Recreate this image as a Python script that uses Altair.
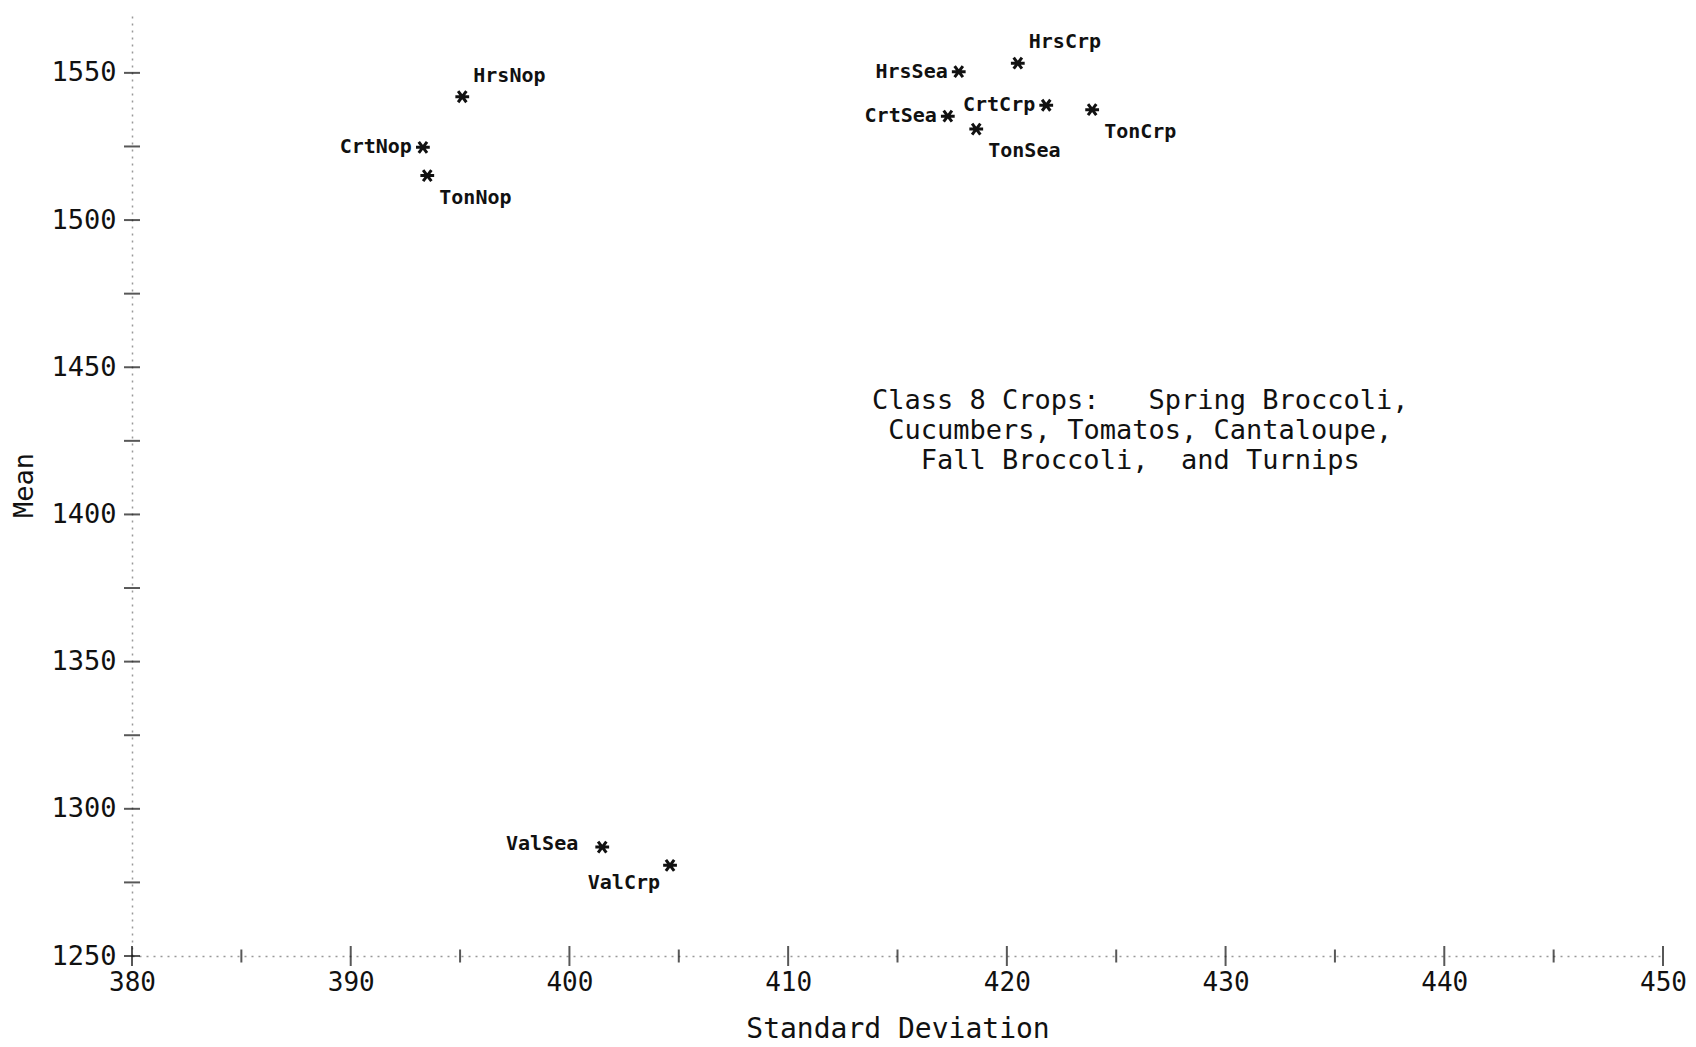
import altair as alt
import pandas as pd

# Crop-rotation treatments: standard deviation vs. mean
labels = ["HrsNop", "CrtNop", "TonNop", "HrsSea", "HrsCrp", "CrtSea",
          "CrtCrp", "TonSea", "TonCrp", "ValSea", "ValCrp"]
std_dev = [395.1, 393.3, 393.5, 417.8, 420.5, 417.3, 421.8, 418.6, 423.9, 401.5, 404.6]
means = [1541.9, 1524.7, 1515.1, 1550.4, 1553.3, 1535.3, 1539.0, 1530.9, 1537.5, 1287.0, 1280.8]
placement = ["NE", "W", "SE", "W", "NE", "W", "W", "SE", "SE", "W2", "SW"]

x_major = [380, 390, 400, 410, 420, 430, 440, 450]
x_minor = [385, 395, 405, 415, 425, 435, 445]
y_ticks = [1250, 1275, 1300, 1325, 1350, 1375, 1400, 1425, 1450, 1475,
           1500, 1525, 1550]
y_labels = [1250, 1300, 1350, 1400, 1450, 1500, 1550]

NBSP = "\u00a0"
note_lines = ["Class 8 Crops:" + NBSP * 3 + "Spring Broccoli,",
              "Cucumbers, Tomatos, Cantaloupe,",
              "Fall Broccoli," + NBSP * 2 + "and Turnips"]
note_x = [426.1]
note_y = [1438.4]

df = pd.DataFrame({"label": labels, "sd": std_dev, "mean": means, "pos": placement})
xmaj_df = pd.DataFrame({"v": x_major})
xmin_df = pd.DataFrame({"v": x_minor})
yt_df = pd.DataFrame({"v": y_ticks})
note_df = pd.DataFrame({"sd": note_x, "mean": note_y, "txt": ["\n".join(note_lines)]})

MONO = "DejaVu Sans Mono"
xs = alt.Scale(domain=[380, 450], nice=False, zero=False)
ys = alt.Scale(domain=[1250, 1570], nice=False, zero=False)

X = alt.X("sd:Q", scale=xs,
          axis=alt.Axis(values=x_major, ticks=False, grid=False, format="d",
                        labelFlush=False,
                        domainColor="#999", domainDash=[2, 5], domainWidth=1.5,
                        labelFont=MONO, labelFontSize=26, labelColor="#111",
                        labelPadding=13, title="Standard Deviation",
                        titleFont=MONO, titleFontSize=28, titleFontWeight="normal",
                        titleColor="#111", titlePadding=20))
Y = alt.Y("mean:Q", scale=ys,
          axis=alt.Axis(values=y_labels, ticks=False, grid=False, format="d",
                        labelFlush=False,
                        domainColor="#999", domainDash=[2, 5], domainWidth=1.5,
                        labelFont=MONO, labelFontSize=27, labelColor="#111",
                        labelPadding=16, title="Mean",
                        titleFont=MONO, titleFontSize=27, titleFontWeight="normal",
                        titleColor="#111", titleX=-108, titleBaseline="middle",
                        titleAlign="center"))

asterisk = "M-1,0L1,0M-0.6,-0.8L0.6,0.8M-0.6,0.8L0.6,-0.8"

points = alt.Chart(df).mark_point(
    shape=asterisk, size=190, filled=False, stroke="#111", strokeWidth=3, opacity=1
).encode(x=X, y=Y)

def label_layer(pos, align, dx, dy):
    return alt.Chart(df).transform_filter(alt.datum.pos == pos).mark_text(
        font=MONO, fontSize=20, fontWeight="bold", color="#111",
        align=align, baseline="middle", dx=dx, dy=dy
    ).encode(x=alt.X("sd:Q", scale=xs), y=alt.Y("mean:Q", scale=ys), text="label:N")

labels_layers = [
    label_layer("W", "right", -11, 0),
    label_layer("NE", "left", 11, -21),
    label_layer("SE", "left", 12, 22),
    label_layer("W2", "right", -24, -3),
    label_layer("SW", "right", -10, 18),
]

# axis tick marks crossing the axis lines
x_major_ticks = alt.Chart(xmaj_df).mark_tick(
    orient="vertical", size=20, thickness=2, color="#111"
).encode(x=alt.X("v:Q", scale=xs), y=alt.datum(1250, scale=ys))
x_minor_ticks = alt.Chart(xmin_df).mark_tick(
    orient="vertical", size=13, thickness=2, color="#111"
).encode(x=alt.X("v:Q", scale=xs), y=alt.datum(1250, scale=ys))
y_axis_ticks = alt.Chart(yt_df).mark_tick(
    orient="horizontal", size=16, thickness=2, color="#111"
).encode(y=alt.Y("v:Q", scale=ys), x=alt.datum(380, scale=xs))

note = alt.Chart(note_df).mark_text(
    font=MONO, fontSize=27, color="#111", align="center", baseline="middle",
    lineBreak="\n", lineHeight=30
).encode(x=alt.X("sd:Q", scale=xs), y=alt.Y("mean:Q", scale=ys), text="txt:N")

chart = alt.layer(
    points, *labels_layers, x_major_ticks, x_minor_ticks, y_axis_ticks, note
).properties(
    width=1531, height=942,
    autosize=alt.AutoSizeParams(type="none"),
    padding={"left": 132, "top": 14, "right": 33, "bottom": 91},
    background="white",
).configure_view(stroke=None)

chart.save("out.html", embed_options={"renderer": "svg", "actions": False})
